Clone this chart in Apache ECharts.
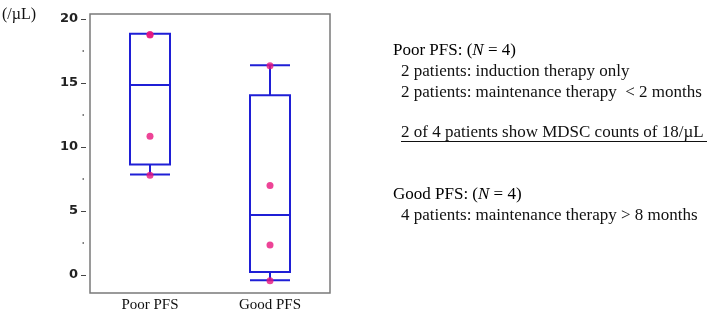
<!DOCTYPE html>
<html><head><meta charset="utf-8">
<script src="https://cdn.jsdelivr.net/npm/echarts@6/dist/echarts.min.js"></script>
<style>html,body{margin:0;padding:0;background:#fff}#c{width:709px;height:316px}</style>
</head><body><div id="c"></div>
<script>
const categories = ['Poor PFS', 'Good PFS'];
// [lower whisker, Q1, median, Q3, upper whisker]
const boxStats = [
  [7.85, 8.65, 14.85, 18.85, 18.85],
  [-0.4, 0.25, 4.7, 14.05, 16.4]
];
const poorPoints = [18.75, 18.8, 10.85, 7.8];
const goodPoints = [16.35, 7.0, 2.35, -0.45];
const majorTicks = [0, 5, 10, 15, 20];
const minorTicks = [2.5, 7.5, 12.5, 17.5];

const chart = echarts.init(document.getElementById('c'));
const serif = '"Liberation Serif", "Times New Roman", serif';
const FS = 17;
const lineStyle = {fontFamily: serif, fontSize: FS, fill: '#111'};
const rich = {
  n: {fontFamily: serif, fontSize: FS, fontStyle: 'italic', color: '#111'},
  t: {fontFamily: serif, fontSize: FS, color: '#111'}
};
chart.setOption({
  animation: false,
  grid: {left: 90, right: 379, top: 14, bottom: 23, show: true, borderColor: '#7a7a7a', borderWidth: 1.5},
  xAxis: {
    type: 'category', data: categories,
    axisLine: {show: false}, axisTick: {show: false},
    axisLabel: {fontFamily: serif, fontSize: 15, color: '#111', margin: 5}
  },
  yAxis: [{
    type: 'value', min: -1.4, max: 20.4, offset: 4,
    axisLine: {show: false}, splitLine: {show: false},
    axisTick: {show: true, customValues: majorTicks, length: 5, lineStyle: {color: '#444', width: 1}},
    axisLabel: {customValues: majorTicks, margin: 8, fontFamily: 'Verdana, "DejaVu Sans", sans-serif', fontWeight: 'bold', fontSize: 13, color: '#222'}
  }, {
    type: 'value', min: -1.4, max: 20.4, position: 'left', offset: 6,
    axisLine: {show: false}, splitLine: {show: false},
    axisTick: {show: true, customValues: minorTicks, length: 1.5, lineStyle: {color: '#555', width: 1.5}},
    axisLabel: {show: false}
  }],
  series: [{
    type: 'boxplot', data: boxStats, boxWidth: [40, 40],
    itemStyle: {color: 'transparent', borderColor: '#1f1fd6', borderWidth: 2}
  }, {
    type: 'scatter', symbolSize: 7, itemStyle: {color: '#e8157d'},
    data: poorPoints.map(v => [categories[0], v]).concat(goodPoints.map(v => [categories[1], v]))
  }],
  graphic: [
    {type: 'text', left: 2, top: 7, style: {text: '(/µL)', fontFamily: serif, fontSize: 16, fill: '#111'}},
    {type: 'text', left: 393, top: 42, style: {text: '{t|Poor PFS: (}{n|N}{t| = 4)}', rich}},
    {type: 'text', left: 401, top: 63, style: Object.assign({text: '2 patients: induction therapy only'}, lineStyle)},
    {type: 'text', left: 401, top: 84, style: Object.assign({text: '2 patients: maintenance therapy  < 2 months'}, lineStyle)},
    {type: 'text', left: 401, top: 124, style: Object.assign({text: '2 of 4 patients show MDSC counts of 18/µL'}, lineStyle)},
    {type: 'line', shape: {x1: 401, y1: 141.5, x2: 707, y2: 141.5}, style: {stroke: '#111', lineWidth: 1}},
    {type: 'text', left: 393, top: 186, style: {text: '{t|Good PFS: (}{n|N}{t| = 4)}', rich}},
    {type: 'text', left: 401, top: 207, style: Object.assign({text: '4 patients: maintenance therapy > 8 months'}, lineStyle)}
  ]
});
</script></body></html>
